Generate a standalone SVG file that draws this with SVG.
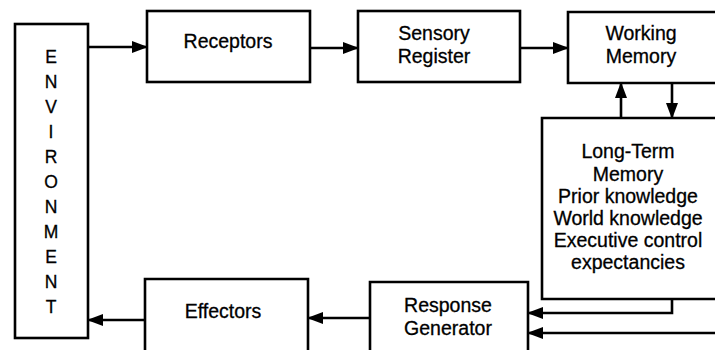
<svg xmlns="http://www.w3.org/2000/svg" width="715" height="350" viewBox="0 0 715 350">
  <style>
    .box { fill: #fff; stroke: #000; stroke-width: 2.6; }
    .lbl { font-family: "Liberation Sans", Arial, sans-serif; font-size: 19.5px; fill: #000; stroke: #000; stroke-width: 0.3; text-anchor: middle; }
    .env { font-family: "Liberation Sans", Arial, sans-serif; font-size: 17.5px; fill: #000; stroke: #000; stroke-width: 0.3; text-anchor: middle; }
    .wire { fill: none; stroke: #000; stroke-width: 2.6; }
  </style>
  <defs>
    <marker id="head" markerUnits="userSpaceOnUse" markerWidth="16" markerHeight="12" refX="15" refY="6" orient="auto">
      <path d="M0,0 L16,6 L0,12 Z" fill="#000"/>
    </marker>
  </defs>
  <rect width="715" height="350" fill="#fff"/>

  <g id="environment">
    <rect class="box" x="15" y="24" width="73" height="314"/>
    <text class="env" x="51" y="63">E</text>
    <text class="env" x="51" y="88">N</text>
    <text class="env" x="51" y="113">V</text>
    <text class="env" x="51" y="138">I</text>
    <text class="env" x="51" y="163">R</text>
    <text class="env" x="51" y="188">O</text>
    <text class="env" x="51" y="213">N</text>
    <text class="env" x="51" y="238">M</text>
    <text class="env" x="51" y="263">E</text>
    <text class="env" x="51" y="288">N</text>
    <text class="env" x="51" y="313">T</text>
  </g>

  <g id="receptors">
    <rect class="box" x="147" y="11" width="163" height="71"/>
    <text class="lbl" x="228" y="48">Receptors</text>
  </g>

  <g id="sensory-register">
    <rect class="box" x="358" y="11" width="162" height="71"/>
    <text class="lbl" x="434" y="40">Sensory</text>
    <text class="lbl" x="434" y="63">Register</text>
  </g>

  <g id="working-memory">
    <path class="box" d="M717,12 H568 V83 H717"/>
    <text class="lbl" x="641" y="40">Working</text>
    <text class="lbl" x="641" y="63">Memory</text>
  </g>

  <g id="long-term-memory">
    <path class="box" d="M717,118 H542 V299 H717"/>
    <text class="lbl" x="628" y="158">Long-Term</text>
    <text class="lbl" x="628" y="181">Memory</text>
    <text class="lbl" x="628" y="203">Prior knowledge</text>
    <text class="lbl" x="628" y="225">World knowledge</text>
    <text class="lbl" x="628" y="247">Executive control</text>
    <text class="lbl" x="628" y="269">expectancies</text>
  </g>

  <g id="response-generator">
    <path class="box" d="M370,352 V282 H528 V352"/>
    <text class="lbl" x="448" y="312">Response</text>
    <text class="lbl" x="448" y="335">Generator</text>
  </g>

  <g id="effectors">
    <path class="box" d="M145,352 V279 H308 V352"/>
    <text class="lbl" x="223" y="318">Effectors</text>
  </g>

  <g id="connectors">
    <line class="wire" x1="88" y1="47" x2="147" y2="47" marker-end="url(#head)"/>
    <line class="wire" x1="310" y1="48" x2="358" y2="48" marker-end="url(#head)"/>
    <line class="wire" x1="520" y1="48" x2="568" y2="48" marker-end="url(#head)"/>
    <line class="wire" x1="621" y1="118" x2="621" y2="83" marker-end="url(#head)"/>
    <line class="wire" x1="672" y1="83" x2="672" y2="118" marker-end="url(#head)"/>
    <path class="wire" d="M672,299 V313 H528" marker-end="url(#head)"/>
    <line class="wire" x1="717" y1="333" x2="528" y2="333" marker-end="url(#head)"/>
    <line class="wire" x1="370" y1="318" x2="308" y2="318" marker-end="url(#head)"/>
    <line class="wire" x1="145" y1="320" x2="88" y2="320" marker-end="url(#head)"/>
  </g>
</svg>
